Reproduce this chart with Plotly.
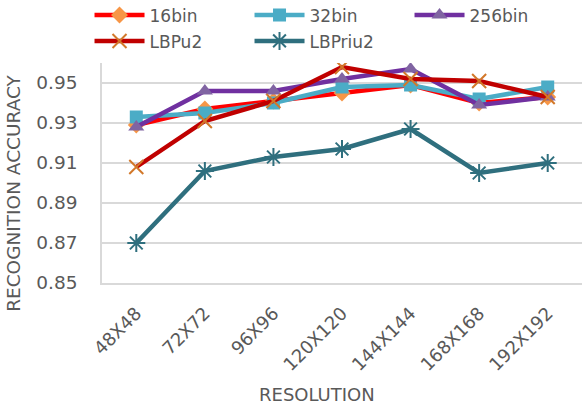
import plotly.graph_objects as go

# Resolution categories (x axis)
resolutions = ["48X48", "72X72", "96X96", "120X120", "144X144", "168X168", "192X192"]

# Recognition accuracy per descriptor
acc_16bin = [0.929, 0.937, 0.941, 0.945, 0.949, 0.940, 0.943]
acc_32bin = [0.933, 0.935, 0.940, 0.948, 0.949, 0.942, 0.948]
acc_256bin = [0.928, 0.946, 0.946, 0.952, 0.957, 0.939, 0.943]
acc_lbpu2 = [0.908, 0.931, 0.941, 0.958, 0.952, 0.951, 0.943]
acc_lbpriu2 = [0.870, 0.906, 0.913, 0.917, 0.927, 0.905, 0.910]

y_ticks = [0.85, 0.87, 0.89, 0.91, 0.93, 0.95]
y_tick_text = ["0.85", "0.87", "0.89", "0.91", "0.93", "0.95"]

FONT = "DejaVu Sans"
TEXT_COLOR = "#595959"
GRID_COLOR = "#d9d9d9"

# histogram descriptors go in the first legend row, LBP variants in the second
series = [
    dict(name="16bin", y=acc_16bin, line="#ff0000", marker="#f79646", symbol="diamond", size=13, mline=0, legend="legend"),
    dict(name="32bin", y=acc_32bin, line="#4bacc6", marker="#4bacc6", symbol="square", size=13, mline=0, legend="legend"),
    dict(name="256bin", y=acc_256bin, line="#7030a0", marker="#8064a2", symbol="triangle-up", size=14, mline=0, legend="legend"),
    dict(name="LBPu2", y=acc_lbpu2, line="#c00000", marker="#d2782a", symbol="x-thin-open", size=14, mline=2, legend="legend2"),
    dict(name="LBPriu2", y=acc_lbpriu2, line="#2f6f7e", marker="#2f6f7e", symbol="asterisk-open", size=15, mline=2, legend="legend2"),
]

fig = go.Figure()
for s in series:
    marker = dict(symbol=s["symbol"], size=s["size"], color=s["marker"])
    if s["mline"]:
        marker["line"] = dict(width=s["mline"], color=s["marker"])
    else:
        marker["line"] = dict(width=0)
    fig.add_trace(go.Scatter(
        x=resolutions, y=s["y"], name=s["name"], mode="lines+markers",
        line=dict(color=s["line"], width=4.5), marker=marker, legend=s["legend"],
    ))

legend_style = dict(
    orientation="h", x=-0.026, xanchor="left", yanchor="top",
    entrywidth=95, entrywidthmode="pixels", itemwidth=50,
    font=dict(family=FONT, size=17, color=TEXT_COLOR),
    bgcolor="rgba(0,0,0,0)", tracegroupgap=0, itemclick=False,
)

fig.update_layout(
    width=585, height=405,
    margin=dict(l=102, r=3, t=63, b=122, autoexpand=False),
    paper_bgcolor="white", plot_bgcolor="white",
    font=dict(family=FONT, size=18, color=TEXT_COLOR),
    showlegend=True,
    legend=dict(legend_style, y=1.298),
    legend2=dict(legend_style, y=1.18),
    xaxis=dict(
        type="category", showgrid=False, showline=True, linecolor=GRID_COLOR, linewidth=1.5,
        tickangle=-45, ticks="", ticklabelstandoff=11, automargin=False,
        tickfont=dict(family=FONT, size=18, color=TEXT_COLOR),
        range=[-0.5, 6.5], mirror=False, zeroline=False,
    ),
    yaxis=dict(
        range=[0.85, 0.96], tickvals=y_ticks, ticktext=y_tick_text,
        showgrid=True, gridcolor=GRID_COLOR, gridwidth=1.5, automargin=False,
        showline=True, linecolor=GRID_COLOR, linewidth=1.5, zeroline=False,
        ticks="", ticklabelstandoff=19,
        tickfont=dict(family=FONT, size=18.5, color=TEXT_COLOR),
    ),
    annotations=[
        dict(text="RECOGNITION ACCURACY", xref="paper", yref="paper",
             x=-0.183, y=0.406, xanchor="center", yanchor="middle", textangle=-90,
             showarrow=False, font=dict(family=FONT, size=18.5, color=TEXT_COLOR)),
        dict(text="RESOLUTION", xref="paper", yref="paper",
             x=0.447, y=-0.505, xanchor="center", yanchor="middle",
             showarrow=False, font=dict(family=FONT, size=18, color=TEXT_COLOR)),
    ],
)

fig.write_html("out.html")
